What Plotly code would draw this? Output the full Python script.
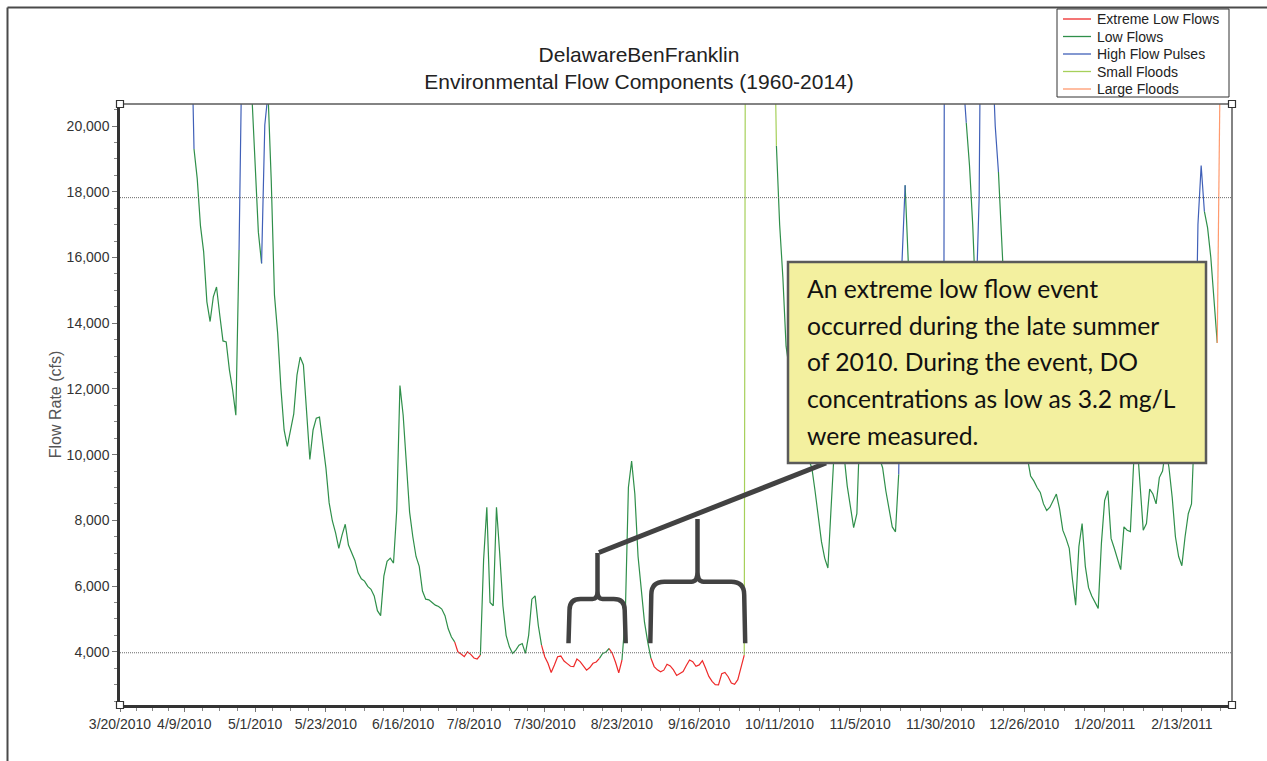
import plotly.graph_objects as go
import pandas as pd

# ---------------- data ----------------
START_DATE = "2010-03-20"
END_DATE = "2011-02-28 14:00"

# day offset from START_DATE and daily flow (cfs)
day_offset = [
    0, 8, 16, 22, 23, 24, 25, 26, 27, 28, 29, 30, 31, 32, 33, 34, 35, 36, 37, 38,
    39, 40, 41, 42, 43, 44, 45, 46, 47, 48, 49, 50, 51, 52, 53, 54, 55, 56, 57, 58,
    59, 60, 61, 62, 63, 64, 65, 66, 67, 68, 69, 70, 71, 72, 73, 74, 75, 76, 77, 78,
    79, 80, 81, 82, 83, 84, 85, 86, 87, 88, 89, 90, 91, 92, 93, 94, 95, 96, 97, 98,
    99, 100, 101, 102, 103, 104, 105, 106, 107, 108, 109, 110, 111, 112, 113, 114, 115, 116, 117, 118,
    119, 120, 121, 122, 123, 124, 125, 126, 127, 128, 129, 130, 131, 132, 133, 134, 135, 136, 137, 138,
    139, 140, 141, 142, 143, 144, 145, 146, 147, 148, 149, 150, 151, 152, 153, 154, 155, 156, 157, 158,
    159, 160, 161, 162, 163, 164, 165, 166, 167, 168, 169, 170, 171, 172, 173, 174, 175, 176, 177, 178,
    179, 180, 181, 182, 183, 184, 185, 186, 187, 188, 189, 190, 191, 192, 193, 194, 195, 196, 197, 198,
    199, 200, 201, 202, 203, 204, 205, 206, 207, 208, 209, 210, 211, 212, 213, 214, 215, 216, 217, 218,
    219, 220, 221, 222, 223, 224, 225, 226, 227, 228, 229, 230, 231, 232, 233, 234, 235, 236, 237, 238,
    239, 240, 241, 242, 243, 244, 245, 246, 247, 248, 249, 250, 251, 252, 253, 254, 255, 256, 257, 258,
    259, 260, 261, 262, 263, 264, 265, 266, 267, 268, 269, 270, 271, 272, 273, 274, 275, 276, 277, 278,
    279, 280, 281, 282, 283, 284, 285, 286, 287, 288, 289, 290, 291, 292, 293, 294, 295, 296, 297, 298,
    299, 300, 301, 302, 303, 304, 305, 306, 307, 308, 309, 310, 311, 312, 313, 314, 315, 316, 317, 318,
    319, 320, 321, 322, 323, 324, 325, 326, 327, 328, 329, 330, 331, 332, 333, 334, 335, 336, 337, 338,
    339, 340, 341, 342, 343, 344, 345, 346,
]

flow_cfs = [
    31000, 38000, 29000, 24000, 19300, 18400, 16970, 16170, 14650, 14050, 14800, 15100, 14250, 13460, 13430, 12580, 11970, 11200, 16230, 21500,
    30000, 26000, 20900, 18800, 16770, 15820, 20030, 21000, 18360, 14860, 13690, 12030, 10750, 10250, 10750, 11240, 12420, 12970, 12730, 11210,
    9850, 10750, 11110, 11140, 10440, 9590, 8530, 7980, 7620, 7150, 7550, 7880, 7250, 7000, 6780, 6400, 6220, 6150, 5990, 5900,
    5700, 5250, 5100, 6300, 6750, 6850, 6700, 8300, 12100, 11200, 9700, 8250, 7500, 6900, 6600, 5850, 5600, 5580, 5500, 5420,
    5380, 5300, 5100, 4700, 4450, 4300, 4000, 3930, 3850, 4000, 3920, 3810, 3780, 3900, 6800, 8400, 5500, 5400, 8400, 7000,
    5400, 4500, 4150, 3950, 4050, 4200, 4250, 3950, 4500, 5600, 5700, 4800, 4200, 3850, 3650, 3370, 3600, 3850, 3870, 3720,
    3640, 3560, 3550, 3780, 3700, 3560, 3440, 3520, 3650, 3690, 3800, 3950, 3990, 4100, 3950, 3680, 3360, 3750, 5000, 9000,
    9800, 8800, 6900, 5900, 4900, 4300, 3800, 3550, 3450, 3390, 3440, 3620, 3570, 3450, 3280, 3350, 3400, 3580, 3750, 3700,
    3560, 3600, 3730, 3500, 3250, 3100, 3000, 2990, 3330, 3370, 3240, 3050, 3010, 3150, 3500, 3900, 60000, 72000, 66000, 54000,
    45000, 38000, 33000, 29000, 25500, 19400, 17000, 15400, 13300, 12600, 12100, 11600, 11100, 10600, 10200, 9850, 9600, 8900, 8100, 7350,
    6850, 6550, 8400, 10200, 11500, 10800, 10000, 9050, 8430, 7780, 8200, 11000, 12000, 11800, 11200, 10700, 10300, 9900, 9600, 8900,
    8350, 7800, 7650, 9400, 15800, 18200, 15800, 14000, 12800, 12000, 11400, 11000, 10800, 10700, 11000, 10600, 10800, 11500, 70000, 60000,
    45000, 34000, 27000, 21500, 20100, 18800, 17000, 14500, 17800, 30000, 36000, 28000, 22500, 20000, 18600, 16400, 14500, 13500, 12800, 12200,
    11600, 11000, 10400, 9900, 9350, 9200, 9000, 8850, 8500, 8300, 8400, 8600, 8800, 8350, 7700, 7450, 7150, 6200, 5420, 7200,
    7900, 6600, 5950, 5700, 5500, 5320, 7300, 8600, 8900, 7450, 7150, 6850, 6500, 7800, 7700, 7660, 9700, 10500, 9100, 7700,
    7900, 8950, 8800, 8500, 9300, 9500, 10200, 9600, 8700, 7500, 6900, 6620, 7500, 8200, 8500, 11000, 17000, 18800, 17400, 16900,
    16000, 14700, 13400, 30000, 42000, 52000, 58000, 60000,
]

# flow-component periods: (first day offset of period, component code)
# E = extreme low flow, L = low flow, H = high flow pulse, S = small flood, F = large flood
component_start_day = [0, 23, 37, 41, 44, 46, 104, 112, 131, 149, 152, 156, 165, 194, 204,
                       242, 244, 256, 263, 266, 273, 334, 337, 341]
component_code = ["H", "L", "H", "L", "H", "L", "E", "L", "E", "L", "E", "L", "E", "S", "L",
                  "H", "L", "H", "L", "H", "L", "H", "L", "F"]

components = ["Extreme Low Flows", "Low Flows", "High Flow Pulses", "Small Floods", "Large Floods"]
component_codes = ["E", "L", "H", "S", "F"]

HIGH_FLOW_THRESHOLD = 17820
LOW_FLOW_THRESHOLD = 3970

tick_labels = ["3/20/2010", "4/9/2010", "5/1/2010", "5/23/2010", "6/16/2010", "7/8/2010",
               "7/30/2010", "8/23/2010", "9/16/2010", "10/11/2010", "11/5/2010", "11/30/2010",
               "12/26/2010", "1/20/2011", "2/13/2011"]

note_lines = ["An extreme low flow event",
              "occurred during the late summer",
              "of 2010. During the event, DO",
              "concentrations as low as 3.2 mg/L",
              "were measured."]

# ---------------- styles ----------------
colors = {"E": "#ee2a2a", "L": "#2f8f4a", "H": "#4060b8", "S": "#a6d05a", "F": "#ff9a6e"}
FONT = "Liberation Sans, Arial, sans-serif"

assert len(day_offset) == len(flow_cfs)

point_code = []
for d in day_offset:
    c = component_code[0]
    for sd, cc in zip(component_start_day, component_code):
        if d >= sd:
            c = cc
    point_code.append(c)

dates = (pd.to_datetime(START_DATE) + pd.to_timedelta(day_offset, unit="D")).strftime("%Y-%m-%d").tolist()

fig = go.Figure()
for name, code in zip(components, component_codes):
    xs, ys = [], []
    last = None
    for i in range(len(dates) - 1):
        if point_code[i] != code:
            continue
        if last != i:
            if xs:
                xs.append(None); ys.append(None)
            xs.append(dates[i]); ys.append(flow_cfs[i])
        xs.append(dates[i + 1]); ys.append(flow_cfs[i + 1])
        last = i + 1
    fig.add_trace(go.Scatter(x=xs, y=ys, mode="lines", name=name,
                             line=dict(color=colors[code], width=1.2),
                             hoverinfo="skip", showlegend=False))

# ---------- layout helpers (pixel -> paper) ----------
L, R, T, B = 120, 1232, 104, 705
def PX(x):
    return (x - L) / (R - L)
def PY(y):
    return (B - y) / (B - T)

tick_dates = pd.to_datetime(tick_labels, format="%m/%d/%Y")
minor_vals = []
for a, b in zip(tick_dates[:-1], tick_dates[1:]):
    for k in (1, 2, 3):
        minor_vals.append(a + (b - a) * k / 4)
step = (tick_dates[-1] - tick_dates[-2]) / 4
m = tick_dates[-1] + step
while m < pd.to_datetime(END_DATE):
    minor_vals.append(m)
    m += step

shapes = []
# threshold lines
for thr in (HIGH_FLOW_THRESHOLD, LOW_FLOW_THRESHOLD):
    shapes.append(dict(type="line", xref="paper", x0=0, x1=1, yref="y", y0=thr, y1=thr,
                       line=dict(color="#6a6a6a", width=1, dash="1px,1px"), layer="above"))
# top / right border of plot
shapes.append(dict(type="line", xref="paper", yref="paper", x0=0, x1=1, y0=1, y1=1,
                   line=dict(color="#5a5a5a", width=1.5)))
shapes.append(dict(type="line", xref="paper", yref="paper", x0=1, x1=1, y0=0, y1=1,
                   line=dict(color="#5a5a5a", width=1.5)))
# outer frame
shapes.append(dict(type="line", xref="paper", yref="paper", x0=PX(7.5), x1=PX(1267), y0=PY(7.5), y1=PY(7.5),
                   line=dict(color="#4a4a4a", width=2)))
shapes.append(dict(type="line", xref="paper", yref="paper", x0=PX(7.5), x1=PX(7.5), y0=PY(7.5), y1=PY(761),
                   line=dict(color="#4a4a4a", width=2)))

# braces
def brace(x0, x1, xc, yb, ym, ytop, r, r2):
    pts = [
        f"M{PX(x0)},{PY(yb)}",
        f"L{PX(x0 + 1)},{PY(ym + r)}",
        f"Q{PX(x0 + 1)},{PY(ym)} {PX(x0 + 1 + r)},{PY(ym)}",
        f"L{PX(xc - r2)},{PY(ym)}",
        f"Q{PX(xc)},{PY(ym)} {PX(xc)},{PY(ym - r2 * 1.6)}",
        f"L{PX(xc)},{PY(ytop)}",
        f"M{PX(xc)},{PY(ym - r2 * 1.6)}",
        f"Q{PX(xc)},{PY(ym)} {PX(xc + r2)},{PY(ym)}",
        f"L{PX(x1 - 1 - r)},{PY(ym)}",
        f"Q{PX(x1 - 1)},{PY(ym)} {PX(x1 - 1)},{PY(ym + r)}",
        f"L{PX(x1)},{PY(yb)}",
    ]
    return " ".join(pts)

for args in [(568.5, 625.7, 597.5, 643.3, 599, 553, 11, 5),
             (650.3, 745.2, 697.5, 643.3, 581.7, 519, 13, 6)]:
    shapes.append(dict(type="path", xref="paper", yref="paper", path=brace(*args),
                       line=dict(color="#424242", width=4.5), layer="above"))

# leader line
shapes.append(dict(type="line", xref="paper", yref="paper", x0=PX(599), y0=PY(552.5),
                   x1=PX(826), y1=PY(463), line=dict(color="#424242", width=5), layer="above"))

# note box
shapes.append(dict(type="rect", xref="paper", yref="paper", x0=PX(788), x1=PX(1206),
                   y0=PY(463), y1=PY(262), fillcolor="#f3f09f",
                   line=dict(color="#5a5a5a", width=2.5), layer="above"))

# corner handles
for cx, cy in [(0, 0), (1, 0), (0, 1), (1, 1)]:
    shapes.append(dict(type="rect", xref="paper", yref="paper", xsizemode="pixel", ysizemode="pixel",
                       xanchor=cx, yanchor=cy, x0=-3.5, x1=3.5, y0=-3.5, y1=3.5,
                       fillcolor="white", line=dict(color="#333", width=1.2), layer="above"))

annotations = []
line_y = [288, 325, 361.5, 398, 435]
for txt, yy in zip(note_lines, line_y):
    annotations.append(dict(text=txt, xref="paper", yref="paper", x=PX(805), y=PY(yy),
                            xanchor="left", yanchor="middle", showarrow=False,
                            font=dict(family="Lato, Carlito, sans-serif", size=24.7, color="#111")))

# legend (box, sample lines and labels)
LEG_X0, LEG_X1, LEG_Y0, LEG_Y1 = 1057, 1229, 9, 97
shapes.append(dict(type="rect", xref="paper", yref="paper", x0=PX(LEG_X0), x1=PX(LEG_X1),
                   y0=PY(LEG_Y1), y1=PY(LEG_Y0), fillcolor="white",
                   line=dict(color="#333", width=1), layer="above"))
for k, (name, code) in enumerate(zip(components, component_codes)):
    yy = 19 + 17.5 * k
    shapes.append(dict(type="line", xref="paper", yref="paper", x0=PX(1063), x1=PX(1091),
                       y0=PY(yy), y1=PY(yy), line=dict(color=colors[code], width=1.3), layer="above"))
    annotations.append(dict(text=name, xref="paper", yref="paper", x=PX(1095), y=PY(yy),
                            xanchor="left", yanchor="middle", showarrow=False,
                            font=dict(family=FONT, size=14, color="#222")))

fig.update_layout(
    width=1267, height=761,
    margin=dict(l=L, r=1267 - R, t=T, b=761 - B),
    paper_bgcolor="white", plot_bgcolor="white",
    font=dict(family=FONT, color="#333"),
    title=dict(text="DelawareBenFranklin<br>Environmental Flow Components (1960-2014)",
               xref="container", yref="container", x=639 / 1267, y=1 - 61.5 / 761,
               xanchor="center", yanchor="middle",
               font=dict(family=FONT, size=21, color="#222")),
    xaxis=dict(type="date", range=[START_DATE, END_DATE],
               tickmode="array", tickvals=list(tick_dates), ticktext=tick_labels,
               ticks="outside", ticklen=4, tickwidth=1, tickcolor="#777",
               tickfont=dict(family=FONT, size=14, color="#333"),
               showline=True, linecolor="#333", linewidth=3,
               showgrid=False, zeroline=False,
               minor=dict(tickmode="array", tickvals=minor_vals, ticks="outside",
                          ticklen=3, tickcolor="#888", showgrid=False)),
    yaxis=dict(range=[2380, 20670], tick0=0, dtick=2000, tickformat=",d",
               ticks="outside", ticklen=5, tickwidth=1, tickcolor="#777",
               tickfont=dict(family=FONT, size=14, color="#333"),
               showline=True, linecolor="#333", linewidth=2.5,
               showgrid=False, zeroline=False,
               minor=dict(dtick=500, tick0=0, ticks="outside", ticklen=3, tickcolor="#888", showgrid=False),
               title=dict(text="Flow Rate (cfs)", standoff=2,
                          font=dict(family=FONT, size=16, color="#555"))),
    shapes=shapes,
    annotations=annotations,
    showlegend=False,
)

fig.write_html("out.html", config={"displayModeBar": False},
               post_script="document.body.style.margin='0';")
